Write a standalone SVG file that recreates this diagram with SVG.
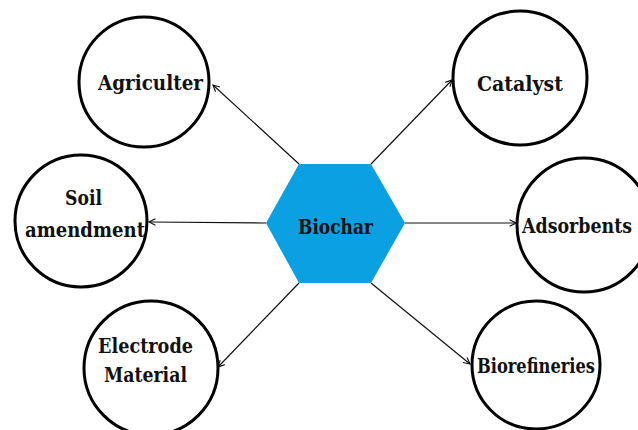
<svg xmlns="http://www.w3.org/2000/svg" width="638" height="430" viewBox="0 0 638 430">
  <style>
    .node circle { fill: #ffffff; stroke: #000000; stroke-width: 3; }
    .label { font-family: "DejaVu Serif", "Liberation Serif", serif; font-weight: bold; font-size: 19.5px; fill: #111111; text-anchor: middle; }
    .edge { stroke: #111111; stroke-width: 1.2; fill: none; marker-end: url(#arrow); }
  </style>
  <defs>
    <marker id="arrow" viewBox="0 0 10 10" refX="9" refY="5" markerWidth="8" markerHeight="8" markerUnits="userSpaceOnUse" orient="auto">
      <path d="M1,1 L9,5 L1,9" fill="none" stroke="#111111" stroke-width="1.4"/>
    </marker>
  </defs>
  <rect width="638" height="430" fill="#ffffff"/>

  <g id="connectors">
    <line class="edge" x1="299" y1="164" x2="213" y2="85"/>
    <line class="edge" x1="266" y1="223" x2="149" y2="222"/>
    <line class="edge" x1="299" y1="283" x2="218" y2="367"/>
    <line class="edge" x1="371" y1="164" x2="452" y2="80"/>
    <line class="edge" x1="405" y1="223" x2="516" y2="223"/>
    <line class="edge" x1="371" y1="283" x2="470" y2="364"/>
  </g>

  <g id="biochar">
    <polygon points="299,164 371,164 405,223 371,283 299,283 266,223" fill="#0aa0e2"/>
    <text class="label" x="335.5" y="234" textLength="75" lengthAdjust="spacingAndGlyphs">Biochar</text>
  </g>

  <g id="agriculter" class="node">
    <circle cx="144" cy="82" r="65"/>
    <text class="label" x="150.5" y="90" textLength="105" lengthAdjust="spacingAndGlyphs">Agriculter</text>
  </g>

  <g id="soil-amendment" class="node">
    <circle cx="81" cy="221" r="66"/>
    <text class="label" x="83.5" y="205" textLength="37" lengthAdjust="spacingAndGlyphs">Soil</text>
    <text class="label" x="85" y="237" textLength="120" lengthAdjust="spacingAndGlyphs">amendment</text>
  </g>

  <g id="electrode-material" class="node">
    <circle cx="151" cy="368" r="67"/>
    <text class="label" x="145.5" y="353" textLength="95" lengthAdjust="spacingAndGlyphs">Electrode</text>
    <text class="label" x="145.5" y="382" textLength="83" lengthAdjust="spacingAndGlyphs">Material</text>
  </g>

  <g id="catalyst" class="node">
    <circle cx="520" cy="78" r="67"/>
    <text class="label" x="520" y="91" textLength="86" lengthAdjust="spacingAndGlyphs">Catalyst</text>
  </g>

  <g id="adsorbents" class="node">
    <circle cx="584" cy="225" r="67"/>
    <!-- narrower face near the right edge, stretched vertically to keep the cap height -->
    <text class="label" transform="translate(577,233) scale(1,1.18)" x="0" y="0" style="font-size:16.5px" textLength="110" lengthAdjust="spacingAndGlyphs">Adsorbents</text>
  </g>

  <g id="biorefineries" class="node">
    <circle cx="536" cy="365" r="64"/>
    <text class="label" x="536" y="373" textLength="118" lengthAdjust="spacingAndGlyphs">Biorefineries</text>
  </g>
</svg>
